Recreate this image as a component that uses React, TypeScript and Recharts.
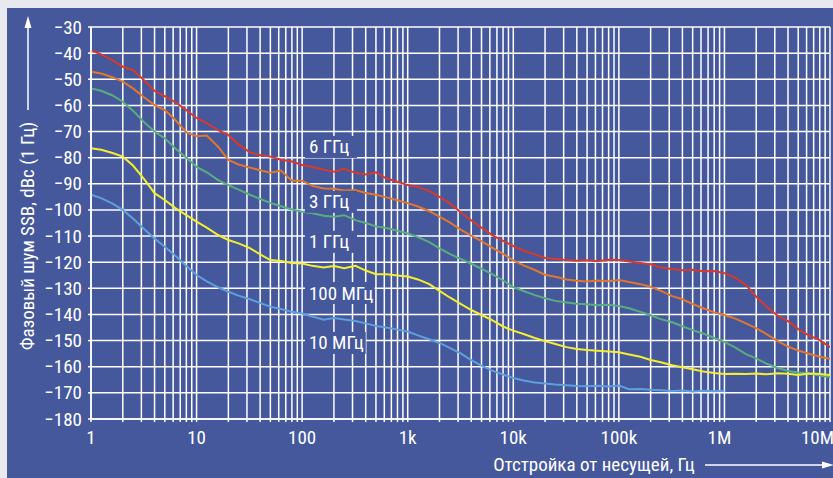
import React from 'react';
import {
  LineChart,
  Line,
  XAxis,
  YAxis,
  CartesianGrid,
  ReferenceDot,
} from 'recharts';

// ---------- data ----------
const FREQ = [
  1, 1.25, 1.6, 2, 2.5, 3.2, 4, 5, 6.3, 8,
  10, 12.5, 16, 20, 25, 32, 40, 50, 63, 80,
  100, 125, 160, 200, 250, 320, 400, 500, 630, 800,
  1e3, 1.25e3, 1.6e3, 2e3, 2.5e3, 3.2e3, 4e3, 5e3, 6.3e3, 8e3,
  1e4, 1.25e4, 1.6e4, 2e4, 2.5e4, 3.2e4, 4e4, 5e4, 6.3e4, 8e4,
  1e5, 1.25e5, 1.6e5, 2e5, 2.5e5, 3.2e5, 4e5, 5e5, 6.3e5, 8e5,
  1e6, 1.25e6, 1.6e6, 2e6, 2.5e6, 3.2e6, 4e6, 5e6, 6.3e6, 8e6,
  1e7,
];

const GHZ6 = [
  -39, -40.5, -42.8, -45.2, -46.5, -50.5, -54.5, -56.5, -58.8, -61.8,
  -64.8, -66.8, -69.5, -71.3, -75, -78, -79, -79.6, -80.8, -81.5,
  -82.8, -83.6, -84.6, -85.4, -84.3, -85.8, -86.4, -85.6, -88, -89.2,
  -90.5, -91.2, -92.8, -95, -97.5, -101, -104, -106.8, -109.6, -111.8,
  -113.8, -115.6, -117, -118.4, -118.8, -119.2, -119.4, -119.3, -119.6, -119.1,
  -119.2, -119.7, -120.3, -120.8, -122, -122.6, -123.1, -122.9, -123.5, -123.4,
  -124.2, -125.8, -128.7, -133.2, -137, -140.5, -142.5, -145.6, -148, -149.8,
  -152.5,
];

const GHZ3 = [
  -47.1, -47.8, -49.2, -50.9, -53.5, -57, -59.9, -61.8, -65.6, -70.3,
  -71.8, -71.5, -75.8, -80.9, -82.6, -83.8, -84.8, -85.8, -84.9, -88.8,
  -88.8, -90.8, -91.8, -91.9, -92.6, -92.4, -93.5, -94.2, -95.2, -96.3,
  -97.4, -98.7, -100.5, -102.6, -104.8, -107.6, -109.8, -111.9, -114.4, -116.8,
  -119.3, -121.2, -123, -124.8, -125.6, -126.6, -127.1, -127.4, -127, -127.3,
  -126.8, -127.6, -128.4, -129.4, -131, -133, -134.2, -136, -137.6, -139.2,
  -140.2, -141.5, -143.4, -145.2, -147.5, -150.2, -152.3, -153.8, -155, -156.2,
  -157,
];

const GHZ1 = [
  -53.5, -54.4, -56.2, -58.6, -62, -66.5, -70, -72.6, -76.5, -80,
  -83.5, -85.6, -88.6, -90.5, -92.2, -94.2, -95.8, -97.3, -98.6, -99.8,
  -100.7, -101.3, -102.2, -102.6, -102, -103.9, -105, -106.3, -106.9, -108,
  -109, -110.4, -112.3, -114.7, -116.8, -118.8, -120.6, -122.5, -124.6, -127,
  -129.5, -131, -132.6, -133.8, -134.8, -135.4, -135.9, -136.1, -136.5, -136.3,
  -136.8, -137.6, -139, -140.3, -141.8, -143, -144.5, -146, -147.3, -149,
  -150.6, -152.5, -155.2, -156.8, -158.8, -160.5, -161.6, -162.2, -162.6, -163.4,
  -164,
];

const MHZ100 = [
  -76.4, -77, -78.2, -79.6, -83, -88.3, -93.6, -96.2, -99.3, -102,
  -104.5, -106.8, -109.6, -111.5, -112.8, -114.6, -117, -119.2, -119.5, -120.3,
  -120.5, -121.4, -122, -121.5, -122.3, -121.4, -123.2, -124.6, -124.6, -125.1,
  -125.5, -126.6, -128.4, -131, -133.5, -136, -138.3, -140.2, -142.2, -144.6,
  -146.2, -147.5, -149, -150.2, -151.3, -152.5, -153.2, -153.6, -153.9, -154.2,
  -154.5, -155.3, -156.2, -157.4, -158.3, -159.4, -160.2, -161, -161.8, -162.4,
  -162.8, -162.7, -162.8, -162.6, -162.9, -162.5, -162.7, -163.2, -162.6, -162.8,
  -163.2,
];

const MHZ10 = [
  -94.2, -95.5, -97.6, -100, -103.3, -107.4, -110.9, -114.1, -117.5, -121.5,
  -124.9, -127.3, -129.6, -131.3, -132.8, -134.2, -135.6, -137, -137.9, -139,
  -139.6, -140.8, -142, -141.4, -141.9, -142.5, -143.4, -144.4, -145, -145.8,
  -146.5, -148, -149.5, -150.9, -152.8, -155, -157.5, -159.6, -161.5, -163,
  -164.3, -165.3, -166, -166.4, -166.8, -167.1, -167.4, -167.5, -167.3, -167.6,
  -167.2, -168.6, -168.5, -168.8, -169, -169.3, -169.1, -169.5, -169.2, -169.4,
  -169.2,
];

const SERIES_NAMES = ['6 ГГц', '3 ГГц', '1 ГГц', '100 МГц', '10 МГц'];
const SERIES_VALUES = [GHZ6, GHZ3, GHZ1, MHZ100, MHZ10];
const LABEL_F = [116, 116, 116, 116, 116];
const LABEL_V = [-75.9, -96.9, -112.2, -131.8, -150.9];

const DECADES = [1, 10, 100, 1e3, 1e4, 1e5, 1e6, 1e7];
const X_TICK_LABELS = ['1', '10', '100', '1k', '10k', '100k', '1M', '10M'];
const MULTIPLIERS = [1, 2, 3, 4, 5, 6, 7, 8, 9];
const Y_TICKS = [-180, -170, -160, -150, -140, -130, -120, -110, -100, -90, -80, -70, -60, -50, -40, -30];

const Y_TITLE = 'Фазовый шум SSB, dBc (1 Гц)';
const X_TITLE = 'Отстройка от несущей, Гц';

// ---------- styles ----------
const COLORS = ['#d9382c', '#e2762c', '#5aae7e', '#f4ee2e', '#5e9fdc'];
const PANEL = '#45589c';
const OUTER = '#e8e9ee';
const FONT = "'Liberation Sans Narrow', 'Arial Narrow', 'Roboto Condensed', 'Liberation Sans', sans-serif";
const FS = 19;

const X_TICKS: number[] = [];
DECADES.forEach((d, i) => {
  if (i === DECADES.length - 1) {
    X_TICKS.push(d);
  } else {
    MULTIPLIERS.forEach((m) => X_TICKS.push(m * d));
  }
});

const seriesData = SERIES_VALUES.map((vals) => vals.map((v, i) => ({ f: FREQ[i], v })));

const fmtMinus = (v: number) => (v < 0 ? '\u2212' + Math.abs(v) : String(v));

const XTick = (props: any) => {
  const { x, y, payload } = props;
  const idx = DECADES.indexOf(payload.value);
  if (idx < 0) return null;
  const last = idx === DECADES.length - 1;
  return (
    <text
      x={x}
      y={y}
      dy={20}
      dx={last ? 4 : idx === DECADES.length - 2 ? -5 : 0}
      textAnchor={last ? 'end' : 'middle'}
      fill="#ffffff"
      fontSize={FS}
      fontFamily={FONT}
    >
      {X_TICK_LABELS[idx]}
    </text>
  );
};

const YTick = (props: any) => {
  const { x, y, payload } = props;
  return (
    <text x={x} y={y} dy={6.5} textAnchor="end" fill="#ffffff" fontSize={FS} fontFamily={FONT}>
      {fmtMinus(payload.value)}
    </text>
  );
};

const makeLabelShape = (name: string) => (p: any) => {
  const { cx, cy } = p;
  const w = name.length * 8.8 + 8;
  return (
    <g>
      <rect x={cx - 4} y={cy - 11} width={w} height={22} fill={PANEL} />
      <text x={cx} y={cy} dy={6.5} fill="#ffffff" fontSize={FS} fontFamily={FONT}>
        {name}
      </text>
    </g>
  );
};

export default function App() {
  return (
    <div
      style={{
        position: 'absolute',
        left: 0,
        top: 0,
        width: 833,
        height: 478,
        background: OUTER,
        overflow: 'hidden',
      }}
    >
      <div style={{ position: 'absolute', left: 7, top: 8, width: 826, height: 470, background: PANEL }} />
      <div style={{ position: 'absolute', left: 0, top: 0 }}>
        <LineChart width={833} height={478} margin={{ top: 27, right: 3, bottom: 0, left: 0 }}>
          <CartesianGrid stroke="#ffffff" strokeWidth={1.5} />
          <XAxis
            dataKey="f"
            type="number"
            scale="log"
            domain={[1, 1e7]}
            allowDataOverflow
            ticks={X_TICKS}
            interval={0}
            height={59}
            tickSize={3}
            tickMargin={2}
            stroke="#ffffff"
            strokeWidth={1.5}
            tick={<XTick />}
          />
          <YAxis
            type="number"
            domain={[-180, -30]}
            ticks={Y_TICKS}
            interval={0}
            width={91}
            tickSize={3}
            tickMargin={6}
            stroke="#ffffff"
            strokeWidth={1.5}
            allowDataOverflow
            tick={<YTick />}
          />
          {SERIES_NAMES.map((name, i) => (
            <ReferenceDot
              key={'lbl' + i}
              x={LABEL_F[i]}
              y={LABEL_V[i]}
              r={0}
              shape={makeLabelShape(name)}
            />
          ))}
          {SERIES_NAMES.map((name, i) => (
            <Line
              key={name}
              name={name}
              data={seriesData[i]}
              dataKey="v"
              type="linear"
              stroke={COLORS[i]}
              strokeWidth={2}
              dot={false}
              activeDot={false}
              isAnimationActive={false}
            />
          ))}
        </LineChart>
      </div>
      <svg
        width={833}
        height={478}
        style={{ position: 'absolute', left: 0, top: 0, pointerEvents: 'none' }}
      >
        <text
          transform="rotate(-90)"
          x={-236}
          y={34}
          textAnchor="middle"
          fill="#ffffff"
          fontSize={FS}
          fontFamily={FONT}
        >
          {Y_TITLE}
        </text>
        <line x1={28} y1={110} x2={28} y2={26} stroke="#ffffff" strokeWidth={1.5} />
        <polygon points="28,16 24.5,28 31.5,28" fill="#ffffff" />
        <text x={594} y={471} textAnchor="middle" fill="#ffffff" fontSize={FS} fontFamily={FONT}>
          {X_TITLE}
        </text>
        <line x1={705} y1={465} x2={824} y2={465} stroke="#ffffff" strokeWidth={1.5} />
        <polygon points="834,465 822,461.5 822,468.5" fill="#ffffff" />
      </svg>
    </div>
  );
}
